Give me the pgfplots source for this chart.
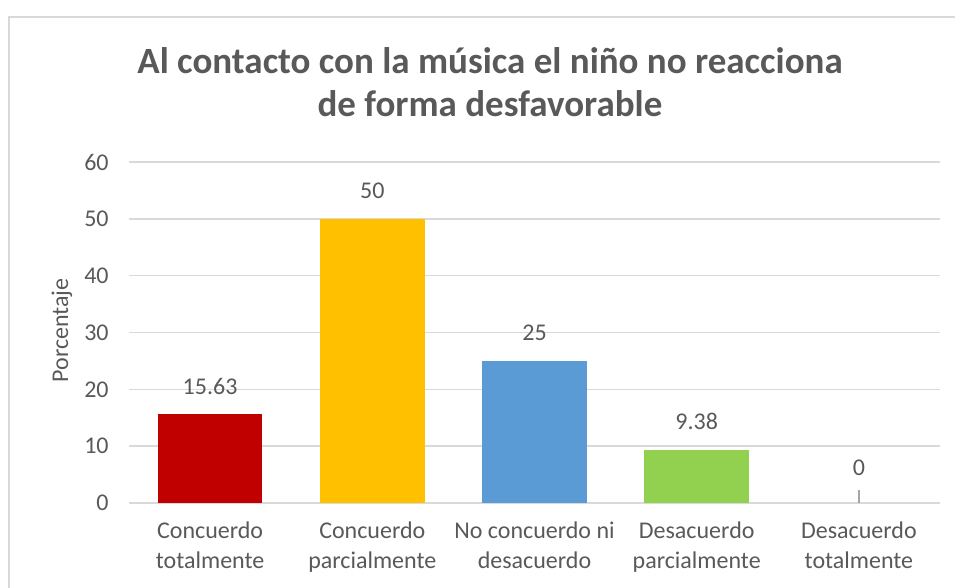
\documentclass[border=0pt]{standalone}
\usepackage{pgfplots}
\pgfplotsset{compat=1.18}
\usepackage{fontspec}
\setmainfont{Carlito}
\definecolor{txt}{HTML}{595959}
\definecolor{gridc}{HTML}{D9D9D9}
\definecolor{cred}{HTML}{C00000}
\definecolor{cyel}{HTML}{FFC000}
\definecolor{cblu}{HTML}{5B9BD5}
\definecolor{cgrn}{HTML}{92D050}
\begin{document}
\begin{tikzpicture}
\useasboundingbox (0,0) rectangle (477.5pt,294pt);
\draw[gridc, line width=1.2pt] (4.5pt,0) -- (4.5pt,285.5pt) -- (477.5pt,285.5pt);
\node[anchor=base, font=\fontsize{18.5}{22}\selectfont\bfseries, text=txt, inner sep=0] at (245pt,257pt) {Al contacto con la música el niño no reacciona};
\node[anchor=base, font=\fontsize{18.5}{22}\selectfont\bfseries, text=txt, inner sep=0] at (245pt,235.5pt) {de forma desfavorable};
\node[rotate=90, font=\fontsize{12}{14}\selectfont, text=txt, inner sep=0] at (31pt,128.75pt) {Porcentaje};
\begin{axis}[
  at={(64.5pt,42.5pt)}, anchor=south west,
  scale only axis, width=405.5pt, height=170.5pt,
  xmin=-0.5, xmax=4.5, ymin=0, ymax=60,
  ytick={0,10,...,60},
  xtick={0,1,2,3,4},
  xticklabels={{Concuerdo\\totalmente},{Concuerdo\\parcialmente},{No concuerdo ni\\desacuerdo},{Desacuerdo\\parcialmente},{Desacuerdo\\totalmente}},
  xticklabel style={align=center, font=\fontsize{12}{15}\selectfont, text=txt, inner sep=0pt, yshift=-9pt},
  yticklabel style={font=\fontsize{12}{14}\selectfont, text=txt, inner sep=0pt, xshift=-10pt},
  /pgf/number format/assume math mode=true,
  major tick length=0pt,
  axis line style={draw=none},
  ymajorgrids, xmajorgrids=false, grid style={draw=gridc, line width=0.8pt},
  ybar, bar width=52.25pt, bar shift=0pt,
  nodes near coords,
  nodes near coords style={font=\fontsize{12}{14}\selectfont, text=txt, anchor=base, inner sep=0pt, yshift=10pt},
  point meta=explicit symbolic,
  clip=false,
]
\addplot[fill=cred, draw=none] coordinates {(0,15.63) [15.63]};
\addplot[fill=cyel, draw=none] coordinates {(1,50) [50]};
\addplot[fill=cblu, draw=none] coordinates {(2,25) [25]};
\addplot[fill=cgrn, draw=none] coordinates {(3,9.38) [9.38]};
\addplot[fill=none, draw=none, nodes near coords style={yshift=3.5pt}] coordinates {(4,0) [0]};
\addplot[sharp plot, draw=gray!70, line width=0.8pt, no marks, nodes near coords={}] coordinates {(4,0) (4,2.3)};
\end{axis}
\end{tikzpicture}
\end{document}
